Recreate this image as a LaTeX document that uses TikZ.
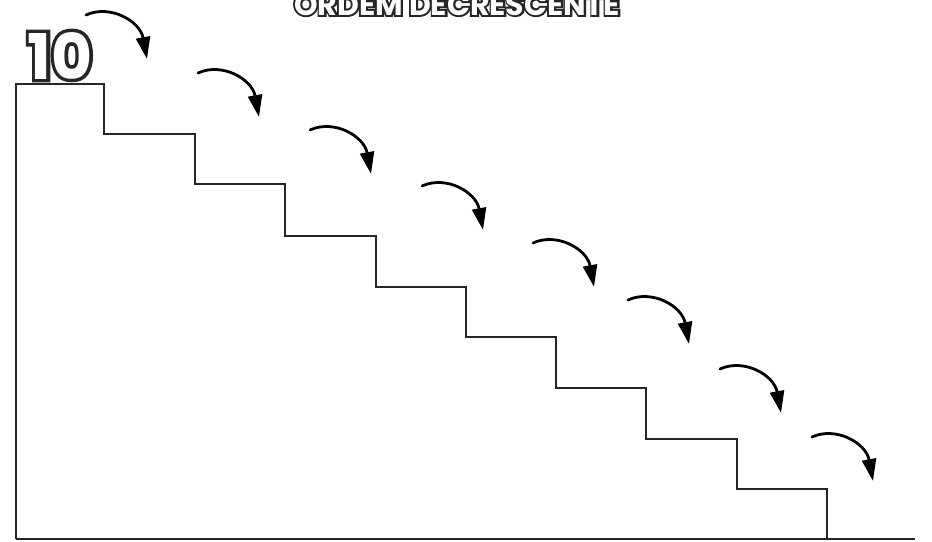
\documentclass[tikz,border=0pt]{standalone}
\usepackage{fontspec}
\usetikzlibrary{arrows.meta}
\newfontfamily\bub{Poppins}
\newfontfamily\bubOa{Poppins}[UprightFeatures={FakeBold=11}, BoldFeatures={FakeBold=11}]
\newfontfamily\bubOb{Poppins}[UprightFeatures={FakeBold=13}, BoldFeatures={FakeBold=13}]
\tikzset{
  stair/.style={draw=black!85, line width=1.6pt, line join=miter},
  jump/.style={draw=black, line width=2.8pt, line cap=round,
    -{Triangle[length=22pt,width=14pt]}},
  outl/.style={inner sep=0pt, anchor=base, text=black!85},
  fill/.style={inner sep=0pt, anchor=base, text=white},
}
\begin{document}
\begin{tikzpicture}[x=1pt,y=-1pt]
\useasboundingbox[fill=white] (0,0) rectangle (932,541);
% title (partly cut off at top)
\node[outl] (titleo) at (457,15) {\bubOb\bfseries\fontsize{30}{30}\selectfont ORDEM DECRESCENTE};
\node[fill] (title) at (titleo.base) {\bub\bfseries\fontsize{30}{30}\selectfont ORDEM DECRESCENTE};
% staircase
\coordinate (s0) at (16,539);
\draw[stair] (16,539) -- (16,84) -- (104,84) -- (104,134) -- (195,134) -- (195,184)
  -- (285,184) -- (285,236) -- (376,236) -- (376,287) -- (466,287) -- (466,337)
  -- (556,337) -- (556,388) -- (646,388) -- (646,439) -- (737,439) -- (737,489)
  -- (827,489) -- (827,539);
\draw[stair, line width=2.2pt] (s0) -- (915,539);
% number 10
\node[outl] (teno) at (60,79) {\bubOa\bfseries\fontsize{63}{63}\selectfont 10};
\node[fill] (ten) at (teno.base) {\bub\bfseries\fontsize{63}{63}\selectfont 10};
% arrows
\foreach \i/\x/\y in {1/86/15, 2/198/73, 3/310/130, 4/422/186, 5/533/243, 6/628/300, 7/720/369, 8/812/437} {
  \coordinate (a\i) at (\x,\y);
  \coordinate (b\i) at (\x+61,\y+44);
  \draw[jump] (a\i) .. controls ([shift={(24,-11)}]a\i) and ([shift={(54,6)}]a\i) .. (b\i);
}
\end{tikzpicture}
\end{document}
